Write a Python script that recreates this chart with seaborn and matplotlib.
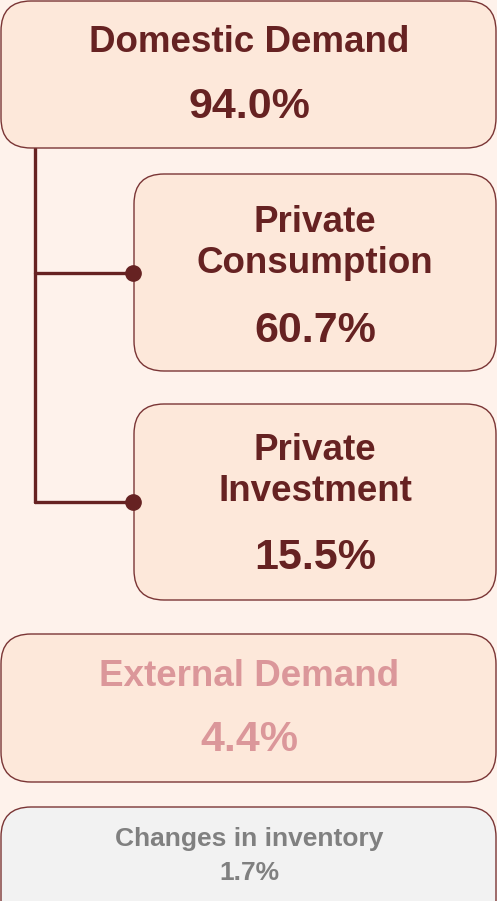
import matplotlib
matplotlib.use("Agg")
import matplotlib.pyplot as plt
from matplotlib.patches import FancyBboxPatch
import seaborn as sns

# data
labels = ["Domestic Demand", "Private\nConsumption", "Private\nInvestment",
          "External Demand", "Changes in inventory"]
shares = [94.0, 60.7, 15.5, 4.4, 1.7]

sns.set_theme(style="white")
plt.rcParams['font.family'] = ['Liberation Sans', 'DejaVu Sans']

dark = '#662222'
edge = '#7a3535'
bg = '#fef2eb'
fill = '#fde8da'

fig = plt.figure(figsize=(4.97, 9.01), dpi=100)
fig.patch.set_facecolor(bg)
ax = fig.add_axes([0, 0, 1, 1])
ax.set_xlim(0, 497)
ax.set_ylim(901, 0)
ax.axis('off')

# boxes: x0, y0, x1, y1 in pixels
boxes = [(0, 1, 497, 148), (133, 174, 497, 371), (133, 404, 497, 600),
         (0, 634, 497, 782), (0, 807, 497, 930)]
fills = [fill, fill, fill, fill, '#f2f2f2']
for (x0, y0, x1, y1), fc in zip(boxes, fills):
    ax.add_patch(FancyBboxPatch((x0 + 1, y0), x1 - x0 - 2, y1 - y0,
                                boxstyle="round,pad=0,rounding_size=30",
                                fc=fc, ec=edge, lw=1.0, zorder=2))

# connector
ax.plot([35, 35], [148, 502], color=dark, lw=2.4, zorder=1)
for y in [273, 502]:
    ax.plot([35, 133], [y, y], color=dark, lw=2.4, zorder=1)
    ax.plot(133, y, 'o', color=dark, ms=11, zorder=3)

# texts
big, pct = 26.5, 31
ax.text(249, 43, labels[0], ha='center', va='center', fontsize=big,
        fontweight='bold', color=dark)
ax.text(249, 107, f'{shares[0]:.1f}%', ha='center', va='center', fontsize=pct,
        fontweight='bold', color=dark)

ax.text(315, 243, labels[1], ha='center', va='center', fontsize=big,
        fontweight='bold', color=dark, linespacing=1.22)
ax.text(315, 331, f'{shares[1]:.1f}%', ha='center', va='center', fontsize=pct,
        fontweight='bold', color=dark)

ax.text(315, 471, labels[2], ha='center', va='center', fontsize=big,
        fontweight='bold', color=dark, linespacing=1.22)
ax.text(315, 558, f'{shares[2]:.1f}%', ha='center', va='center', fontsize=pct,
        fontweight='bold', color=dark)

pink = '#db979a'
ax.text(249, 676, labels[3], ha='center', va='center', fontsize=big,
        fontweight='bold', color=pink)
ax.text(249, 740, f'{shares[3]:.1f}%', ha='center', va='center', fontsize=pct,
        fontweight='bold', color=pink)

grey = '#808080'
ax.text(249, 839, labels[4], ha='center', va='center', fontsize=19,
        fontweight='bold', color=grey)
ax.text(249, 873, f'{shares[4]:.1f}%', ha='center', va='center', fontsize=19,
        fontweight='bold', color=grey)

fig.savefig('out.png', dpi=100, facecolor=bg)
